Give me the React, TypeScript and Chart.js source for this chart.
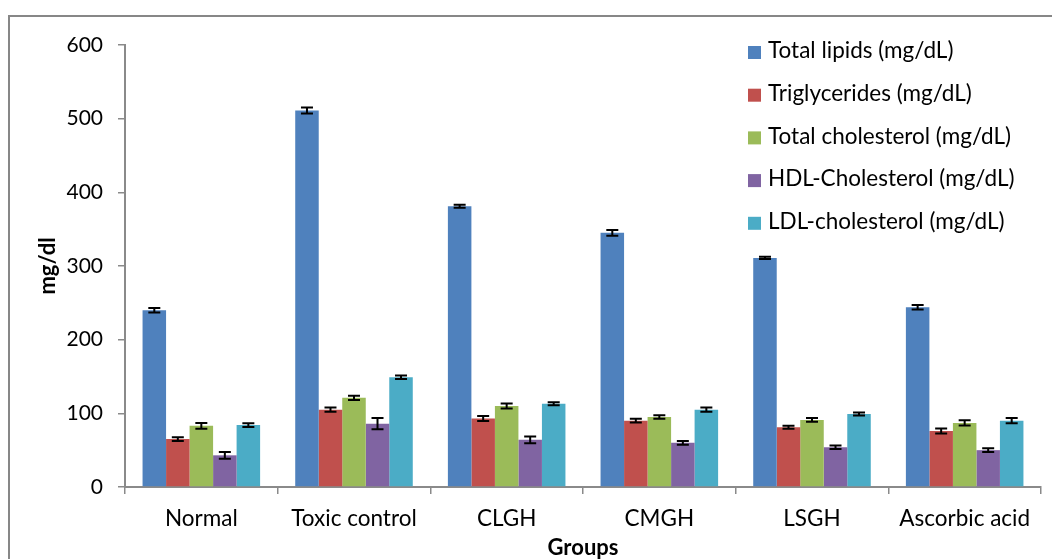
import React, { useEffect, useRef } from "react";
import { Chart, registerables } from "chart.js";

Chart.register(...registerables);

const groups = ["Normal", "Toxic control", "CLGH", "CMGH", "LSGH", "Ascorbic acid"];
const seriesNames = [
  "Total lipids (mg/dL)",
  "Triglycerides (mg/dL)",
  "Total cholesterol (mg/dL)",
  "HDL-Cholesterol (mg/dL)",
  "LDL-cholesterol (mg/dL)",
];
const totalLipids = [240, 511, 381, 345, 311, 244];
const triglycerides = [65, 105, 93, 90, 81, 76];
const totalCholesterol = [83, 121, 110, 95, 91, 87];
const hdlCholesterol = [43, 86, 64, 60, 54, 50];
const ldlCholesterol = [84, 149, 113, 105, 99, 90];

const totalLipidsErr = [3, 4, 2, 4, 1.5, 3];
const triglyceridesErr = [2.5, 3, 3.5, 2.5, 2, 3.5];
const totalCholesterolErr = [4, 3, 3.5, 2.5, 2.5, 3.5];
const hdlCholesterolErr = [4.5, 7.5, 4.5, 2.5, 2.5, 2.5];
const ldlCholesterolErr = [2.5, 2.5, 2, 3, 2, 3.5];

const yMin = 0;
const yMax = 600;
const yStep = 100;

const seriesValues = [totalLipids, triglycerides, totalCholesterol, hdlCholesterol, ldlCholesterol];
const seriesErrors = [totalLipidsErr, triglyceridesErr, totalCholesterolErr, hdlCholesterolErr, ldlCholesterolErr];
const seriesColors = ["#4F81BD", "#C0504D", "#9BBB59", "#8064A2", "#4BACC6"];

const FONT = "Lato, 'Open Sans', sans-serif";
const AXIS_COLOR = "#8a8a8a";

const errorBarPlugin = {
  id: "errorBars",
  afterDatasetsDraw(chart: any) {
    const ctx = chart.ctx;
    const yScale = chart.scales.y;
    ctx.save();
    ctx.strokeStyle = "#000";
    ctx.lineWidth = 2;
    chart.data.datasets.forEach((ds: any, i: number) => {
      const meta = chart.getDatasetMeta(i);
      meta.data.forEach((el: any, j: number) => {
        const v = ds.data[j];
        const e = ds.errors[j];
        const x = el.x;
        const yt = yScale.getPixelForValue(v + e);
        const yb = yScale.getPixelForValue(v - e);
        const cap = 6;
        ctx.beginPath();
        ctx.moveTo(x, yt);
        ctx.lineTo(x, yb);
        ctx.moveTo(x - cap, yt);
        ctx.lineTo(x + cap, yt);
        ctx.moveTo(x - cap, yb);
        ctx.lineTo(x + cap, yb);
        ctx.stroke();
      });
    });
    ctx.restore();
  },
};

const insideLegendPlugin = {
  id: "insideLegend",
  afterDraw(chart: any) {
    const ctx = chart.ctx;
    const left = chart.chartArea.right - 293;
    const top = chart.chartArea.top + 6;
    const spacing = 42.7;
    ctx.save();
    ctx.font = `22.5px ${FONT}`;
    ctx.textBaseline = "middle";
    ctx.textAlign = "left";
    chart.data.datasets.forEach((ds: any, i: number) => {
      const cy = top + i * spacing;
      ctx.fillStyle = ds.backgroundColor;
      ctx.fillRect(left, cy - 5, 13, 13);
      ctx.fillStyle = "#000";
      ctx.fillText(ds.label, left + 20, cy);
    });
    ctx.restore();
  },
};

export default function App() {
  const canvasRef = useRef<HTMLCanvasElement | null>(null);

  useEffect(() => {
    const canvas = canvasRef.current;
    if (!canvas) return;
    const chart = new Chart(canvas, {
      type: "bar",
      data: {
        labels: groups,
        datasets: seriesNames.map((name, i) => ({
          label: name,
          data: seriesValues[i],
          errors: seriesErrors[i],
          backgroundColor: seriesColors[i],
          borderWidth: 0,
          categoryPercentage: 0.77,
          barPercentage: 1,
        })) as any,
      },
      options: {
        responsive: false,
        animation: false,
        layout: { padding: { left: 0, right: 11, top: 28, bottom: 0 } },
        plugins: {
          legend: { display: false },
          tooltip: { enabled: false },
        },
        scales: {
          x: {
            grid: {
              display: true,
              drawOnChartArea: false,
              drawTicks: true,
              tickLength: 7,
              color: AXIS_COLOR,
              lineWidth: 1.5,
              offset: true,
            },
            border: { display: true, color: AXIS_COLOR, width: 2 },
            ticks: {
              color: "#000",
              padding: 11,
              font: { family: FONT, size: 22.5 },
              maxRotation: 0,
              autoSkip: false,
            },
            title: {
              display: true,
              text: "Groups",
              color: "#000",
              font: { family: FONT, size: 22, weight: "bold", lineHeight: 1 },
              padding: { top: 0, bottom: 0 },
            },
            afterFit: (scale: any) => {
              scale.height = 72;
            },
          },
          y: {
            min: yMin,
            max: yMax,
            ticks: {
              stepSize: yStep,
              color: "#000",
              padding: 15,
              font: { family: FONT, size: 21 },
            },
            grid: {
              display: true,
              drawOnChartArea: false,
              drawTicks: true,
              tickLength: 7,
              color: AXIS_COLOR,
              lineWidth: 1.5,
            },
            border: { display: true, color: AXIS_COLOR, width: 2 },
            title: {
              display: true,
              text: "mg/dl",
              color: "#000",
              font: { family: FONT, size: 22, weight: "bold", lineHeight: 1 },
              padding: { top: 27, bottom: 0 },
            },
            afterFit: (scale: any) => {
              scale.width = 115;
            },
          },
        },
      } as any,
      plugins: [errorBarPlugin, insideLegendPlugin],
    });
    return () => chart.destroy();
  }, []);

  return (
    <div
      style={{
        position: "fixed",
        left: 8,
        top: 15,
        width: 1044,
        height: 544,
        boxSizing: "border-box",
        borderLeft: "2px solid #878787",
        borderTop: "2px solid #878787",
        background: "#fff",
      }}
    >
      <canvas ref={canvasRef} width={1042} height={542} style={{ display: "block" }} />
    </div>
  );
}
